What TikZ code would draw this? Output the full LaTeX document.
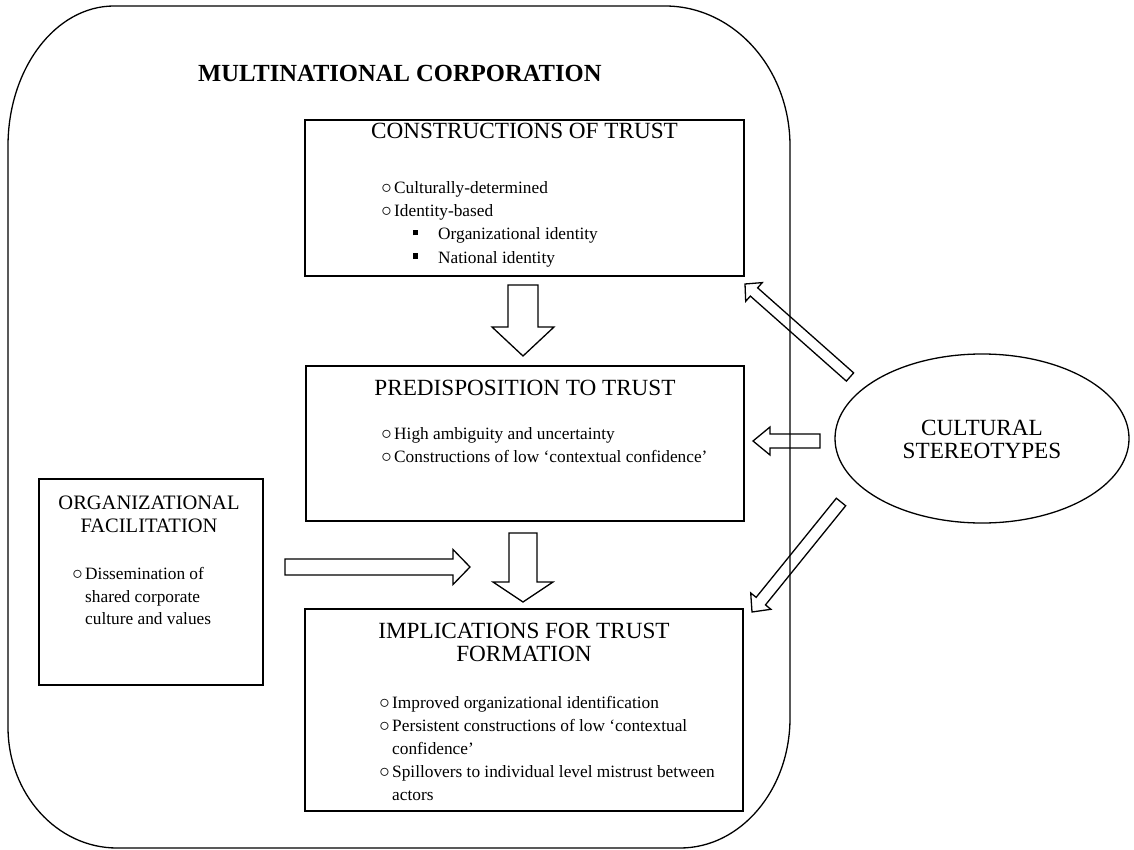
\documentclass[tikz,border=0pt]{standalone}
\usepackage{fontspec}
\setmainfont{Liberation Serif}
\usetikzlibrary{calc,shapes.geometric}
\newcommand\ttlfont{\fontsize{23.2}{23}\selectfont}
\newcommand\smttlfont{\fontsize{20.5}{23}\selectfont}
\newcommand\bodyfont{\fontsize{17.3}{23}\selectfont}
\newcommand\ob{\llap{{\fontsize{20}{20}\selectfont$\circ$}\hspace{2.5pt}}}
\newcommand\sqb{\llap{\rule[4.5pt]{5pt}{5pt}\hspace{20pt}}}
\newcommand\hollowarrow[5]{%
  \coordinate (hb) at ($(#2)!#5!(#1)$);
  \draw[blockarrow] ($(#1)!#3!90:(#2)$) -- ($(hb)!#3!90:(#2)$) -- ($(hb)!#4!90:(#2)$)
    -- (#2) -- ($(hb)!#4!-90:(#2)$) -- ($(hb)!#3!-90:(#2)$) -- ($(#1)!#3!-90:(#2)$) -- cycle;}
\begin{document}
\begin{tikzpicture}[x=1pt,y=-1pt,
  box/.style={draw, line width=1.6pt, rectangle, inner sep=0pt},
  blockarrow/.style={draw, line width=1.3pt, line join=miter},
  ttl/.style={anchor=base, inner sep=0pt, font=\ttlfont},
  smttl/.style={anchor=base, inner sep=0pt, font=\smttlfont},
  itm/.style={anchor=base west, inner sep=0pt, font=\bodyfont}]
\useasboundingbox (0,0) rectangle (1134,850);
% outer multinational corporation shape
\draw[line width=1.3pt] (114,6) -- (665,6)
  .. controls (734,6) and (790,68.7) .. (790,146)
  -- (790,718)
  .. controls (790,789.8) and (740.8,848) .. (680,848)
  -- (117,848)
  .. controls (56.8,848) and (8,793.8) .. (8,727)
  -- (8,146)
  .. controls (8,68.7) and (55.5,6) .. (114,6) -- cycle;
\node[anchor=base west, inner sep=0pt, font=\fontsize{24.6}{24}\selectfont\bfseries] (mnc) at (198,82) {MULTINATIONAL CORPORATION};

% boxes
\node[box, minimum width=439pt, minimum height=156pt] (b1) at (524.5,198) {};
\node[box, minimum width=438pt, minimum height=155pt] (b2) at (525,443.5) {};
\node[box, minimum width=438pt, minimum height=202pt] (b3) at (524,710) {};
\node[box, minimum width=224pt, minimum height=206pt] (b4) at (151,582) {};
\node[draw, line width=1.3pt, ellipse, minimum width=294pt, minimum height=169pt, inner sep=0pt] (cs) at (982,438.5) {};

% box 1
\node[ttl] (b1t) at (524.5,139) {CONSTRUCTIONS OF TRUST};
\node[itm] (b1i1) at (394,194) {\ob Culturally-determined};
\node[itm] (b1i2) at (394,217) {\ob Identity-based};
\node[itm] (b1i3) at (438,240) {\sqb Organizational identity};
\node[itm] (b1i4) at (438,263) {\sqb National identity};

% box 2
\node[ttl] (b2t) at (525,395) {PREDISPOSITION TO TRUST};
\node[itm] (b2i1) at (394,439) {\ob High ambiguity and uncertainty};
\node[itm] (b2i2) at (394,462) {\ob Constructions of low ‘contextual confidence’};

% box 3
\node[ttl] (b3t1) at (524,638) {IMPLICATIONS FOR TRUST};
\node[ttl] (b3t2) at (524,661) {FORMATION};
\node[itm] (b3i1) at (392,708) {\ob Improved organizational identification};
\node[itm] (b3i2) at (392,731) {\ob Persistent constructions of low ‘contextual};
\node[itm] (b3i3) at (392,754) {confidence’};
\node[itm] (b3i4) at (392,777) {\ob Spillovers to individual level mistrust between};
\node[itm] (b3i5) at (392,800) {actors};

% box 4
\node[smttl] (b4t1) at (149,509) {ORGANIZATIONAL};
\node[smttl] (b4t2) at (149,532) {FACILITATION};
\node[itm] (b4i1) at (85,579) {\ob Dissemination of};
\node[itm] (b4i2) at (85,602) {shared corporate};
\node[itm] (b4i3) at (85,624) {culture and values};

% ellipse text
\node[ttl] (cst1) at (982,435) {CULTURAL};
\node[ttl] (cst2) at (982,458) {STEREOTYPES};

% arrow end points
\coordinate (a1t) at (523,285);  \coordinate (a1h) at (523,356);
\coordinate (a2t) at (523,533);  \coordinate (a2h) at (523,602);
\coordinate (a3t) at (285,567);  \coordinate (a3h) at (470,567);
\coordinate (a4t) at (820,441);  \coordinate (a4h) at (753,441);
\coordinate (a5t) at (850,377);  \coordinate (a5h) at (745,284);
\coordinate (a6t) at (841,502);  \coordinate (a6h) at (752,612);

\hollowarrow{a1t}{a1h}{15pt}{31pt}{29pt}
\hollowarrow{a2t}{a2h}{14pt}{30pt}{20pt}
\hollowarrow{a3t}{a3h}{8pt}{17.5pt}{17pt}
\hollowarrow{a4t}{a4h}{7pt}{14pt}{17pt}
\hollowarrow{a5t}{a5h}{5.5pt}{12.5pt}{12pt}
\hollowarrow{a6t}{a6h}{6pt}{13pt}{14pt}
\end{tikzpicture}
\end{document}
